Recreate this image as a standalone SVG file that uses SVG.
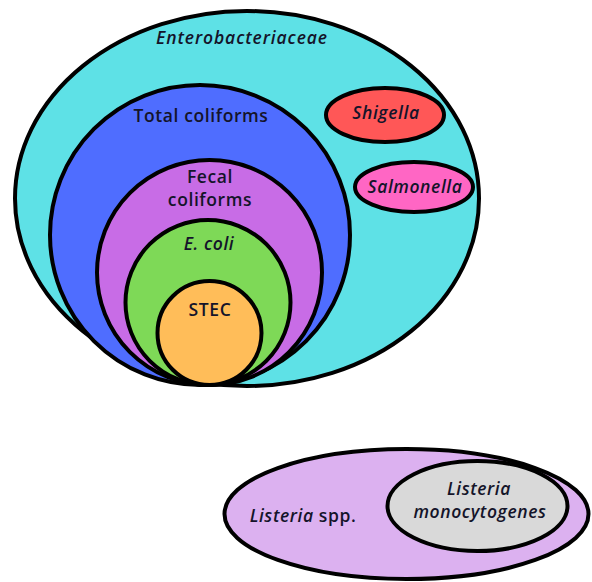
<svg xmlns="http://www.w3.org/2000/svg" width="592" height="582" viewBox="0 0 592 582">
<style>
.s{stroke:#000;stroke-width:4}
text{font-family:"Open Sans","Liberation Sans",sans-serif;font-weight:600;fill:#14142a;text-anchor:middle;font-size:17.5px;letter-spacing:0.6px}
.i{font-style:italic}
</style>
<rect width="592" height="582" fill="#fff"/>
<g id="enterobacteriaceae">
<ellipse class="s" cx="247" cy="198.5" rx="232" ry="187.5" fill="#5ee1e6"/>
<text class="i" x="242" y="44" style="letter-spacing:0.9px">Enterobacteriaceae</text>
</g>
<g id="shigella">
<ellipse class="s" cx="385" cy="115" rx="59" ry="27" fill="#ff5757"/>
<text class="i" x="386" y="119">Shigella</text>
</g>
<g id="salmonella">
<ellipse class="s" cx="414" cy="187" rx="59" ry="25" fill="#ff66c4"/>
<text class="i" x="415" y="193">Salmonella</text>
</g>
<g id="total-coliforms">
<circle class="s" cx="200" cy="235" r="150" fill="#4f6dff"/>
<text x="201" y="122">Total coliforms</text>
</g>
<g id="fecal-coliforms">
<circle class="s" cx="209.5" cy="272.5" r="112.5" fill="#c86ce6"/>
<text x="210" y="183">Fecal</text>
<text x="210" y="206">coliforms</text>
</g>
<g id="e-coli">
<circle class="s" cx="208" cy="302.5" r="82.5" fill="#7ed957"/>
<text class="i" x="209" y="250">E. coli</text>
</g>
<g id="stec">
<circle class="s" cx="209.5" cy="333" r="52" fill="#ffbd59"/>
<text x="210" y="316">STEC</text>
</g>
<g id="listeria-spp">
<ellipse class="s" cx="406.5" cy="514" rx="182" ry="65" fill="#dcb1f0"/>
<text x="303" y="522"><tspan class="i">Listeria</tspan> spp.</text>
</g>
<g id="listeria-monocytogenes">
<ellipse class="s" cx="477.5" cy="506" rx="90" ry="45" fill="#d9d9d9"/>
<text class="i" x="479" y="495">Listeria</text>
<text class="i" x="480" y="518">monocytogenes</text>
</g>
<g id="connectors"/>
</svg>
